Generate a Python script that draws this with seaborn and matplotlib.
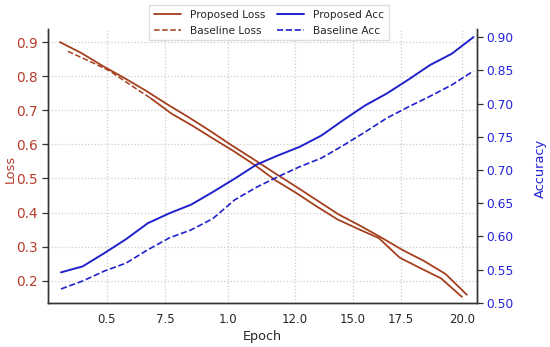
import numpy as np
import pandas as pd
import matplotlib
matplotlib.use("Agg")
import matplotlib.pyplot as plt
import seaborn as sns
from matplotlib.lines import Line2D

# values
proposed_loss = [0.900, 0.868, 0.830, 0.795, 0.758, 0.718, 0.680, 0.640, 0.598, 0.558,
                 0.517, 0.477, 0.436, 0.395, 0.362, 0.327, 0.290, 0.258, 0.220, 0.159]
baseline_loss = [0.873, 0.845, 0.816, 0.775, 0.735, 0.690, 0.655, 0.617, 0.580, 0.540,
                 0.495, 0.458, 0.418, 0.380, 0.352, 0.325, 0.268, 0.237, 0.207, 0.153]
proposed_acc = [0.546, 0.555, 0.575, 0.596, 0.620, 0.635, 0.648, 0.667, 0.687, 0.708,
                0.722, 0.735, 0.752, 0.775, 0.797, 0.815, 0.836, 0.858, 0.875, 0.900]
baseline_acc = [0.521, 0.533, 0.548, 0.560, 0.580, 0.598, 0.610, 0.627, 0.655, 0.674,
                0.690, 0.705, 0.718, 0.737, 0.757, 0.778, 0.795, 0.811, 0.828, 0.849]

# epoch positions of each series (the lines do not start/end at exactly the same place)
x_prop_loss = np.linspace(1.0, 20.24, 20)
x_base_loss = np.linspace(1.38, 20.0, 20)
x_acc = np.linspace(1.05, 20.55, 20)

xtick_pos = [3.22, 5.96, 8.94, 12.11, 14.85, 17.12, 20.0]
xtick_labels = ["0.5", "7.5", "1.0", "12.0", "15.0", "17.5", "20.0"]
loss_ticks = [0.2, 0.3, 0.4, 0.5, 0.6, 0.7, 0.8, 0.9]
acc_ticks = [0.50, 0.55, 0.60, 0.65, 0.70, 0.75, 0.80, 0.85, 0.90]
acc_tick_labels = ["0.50", "0.55", "0.60", "0.65", "0.70", "0.75", "0.70", "0.85", "0.90"]

loss_color = "#a5401f"
loss_tick_color = "#b83c2b"
acc_color = "#2020cc"
acc_tick_color = "#2323dd"

sns.set_style("white")
plt.rcParams["font.family"] = ["DejaVu Sans"]

fig = plt.figure(figsize=(5.5, 3.47), dpi=100)
ax = fig.add_axes([0.087, 0.127, 0.78, 0.789])
ax2 = ax.twinx()

df_pl = pd.DataFrame({"epoch": x_prop_loss, "loss": proposed_loss})
df_bl = pd.DataFrame({"epoch": x_base_loss, "loss": baseline_loss})
df_pa = pd.DataFrame({"epoch": x_acc, "acc": proposed_acc})
df_ba = pd.DataFrame({"epoch": x_acc, "acc": baseline_acc})

sns.lineplot(data=df_pl, x="epoch", y="loss", ax=ax, color=loss_color, lw=1.3)
# baseline loss is dashed at the start, then drawn solid
sns.lineplot(data=df_bl.iloc[:5], x="epoch", y="loss", ax=ax, color=loss_color,
             lw=1.1, linestyle="--")
sns.lineplot(data=df_bl.iloc[4:], x="epoch", y="loss", ax=ax, color=loss_color, lw=1.3)

sns.lineplot(data=df_pa, x="epoch", y="acc", ax=ax2, color=acc_color, lw=1.4)
sns.lineplot(data=df_ba, x="epoch", y="acc", ax=ax2, color=acc_color, lw=1.2,
             linestyle="--")

ax.set_xlim(0.43, 20.71)
ax.set_ylim(0.135, 0.938)
ax2.set_ylim(0.50, 0.912)

ax.set_xticks(xtick_pos)
ax.set_xticklabels(xtick_labels, fontsize=8.5)
ax.set_yticks(loss_ticks)
ax.set_yticklabels([f"{v:.1f}" for v in loss_ticks], fontsize=9.8, color=loss_tick_color)
ax2.set_yticks(acc_ticks)
ax2.set_yticklabels(acc_tick_labels, fontsize=8.8, color=acc_tick_color)

ax.set_xlabel("Epoch", fontsize=9.2, labelpad=3)
ax.set_ylabel("Loss", fontsize=9.2, color=loss_tick_color)
ax2.set_ylabel("Accuracy", fontsize=9.4, color=acc_tick_color)
ax.yaxis.set_label_coords(-0.072, 0.49)
ax2.yaxis.set_label_coords(1.133, 0.49)

ax.grid(True, linestyle=":", color="#cccccc", lw=0.9)
ax2.grid(False)
for a in (ax, ax2):
    a.spines["top"].set_visible(False)
    for s in ("left", "right", "bottom"):
        a.spines[s].set_color("#333333")
        a.spines[s].set_linewidth(1.0)
ax.tick_params(axis="both", direction="out", length=4, width=0.9, color="#333333", pad=3)
ax2.tick_params(axis="y", direction="out", length=4, width=0.9, color="#333333", pad=3)

handles = [
    Line2D([], [], color=loss_color, lw=1.3, label="Proposed Loss"),
    Line2D([], [], color=loss_color, lw=1.1, ls="--", label="Baseline Loss"),
    Line2D([], [], color=acc_color, lw=1.4, label="Proposed Acc"),
    Line2D([], [], color=acc_color, lw=1.2, ls="--", label="Baseline Acc"),
]
fig.legend(handles=handles, loc="upper center", bbox_to_anchor=(0.489, 1.0), ncol=2,
           fontsize=7.6, frameon=True, framealpha=1, edgecolor="#dddddd",
           borderpad=0.4, labelspacing=0.6, columnspacing=1.1, handlelength=2.6,
           handletextpad=0.85, fancybox=False)

fig.savefig("out.png", dpi=100)
plt.close(fig)
